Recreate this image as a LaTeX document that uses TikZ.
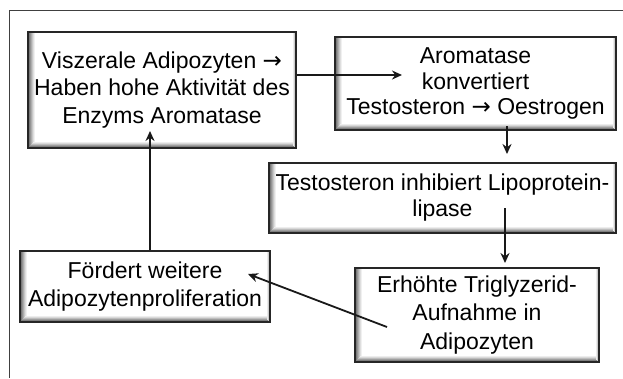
\documentclass[tikz,border=0pt]{standalone}
\usepackage{fontspec}
\setmainfont{Liberation Sans}
\newfontfamily\arrowfont{DejaVu Sans}
\newcommand{\rarr}{{\arrowfont →}}
\usetikzlibrary{arrows.meta}
\tikzset{
  box/.style={draw=black!85, line width=1.2pt, fill=white, inner sep=0pt,
    align=center, font=\fontsize{23}{27.5}\selectfont, text=black,
    path picture={
      \foreach \i/\g in {0/62,1/52,2/42,3/32,4/22,5/13,6/6}{
        \fill[black!\g] ([xshift=\i pt]path picture bounding box.south west) rectangle ([xshift=\i pt+1.05pt]path picture bounding box.north west);
      }
      \foreach \i/\g in {0/62,1/50,2/38,3/26,4/15,5/7}{
        \fill[black!\g] ([xshift=\i pt, yshift=\i pt]path picture bounding box.south west) rectangle ([yshift=\i pt+1.05pt]path picture bounding box.south east);
      }
      \foreach \i/\g in {0/35,1/20,2/8}{
        \fill[black!\g] ([xshift=-\i pt]path picture bounding box.north east) rectangle ([xshift=-\i pt-1.05pt, yshift=\i pt]path picture bounding box.south east);
      }
    }},
  arr/.style={line width=1.8pt, black!90, -{Stealth[length=10pt,width=9pt]}},
  frame/.style={draw=black!75, line width=1pt}
}
\begin{document}
\begin{tikzpicture}[x=1pt,y=-1pt]
\useasboundingbox (0,0) rectangle (623,378);
\fill[white] (0,0) rectangle (623,378);
\coordinate (ftr) at (623,10);
\coordinate (ftl) at (9,10);
\coordinate (fbl) at (9,378);
\draw[frame] (ftr) -- (ftl) -- (fbl);

\node[box, minimum width=268pt, minimum height=116pt] (b1) at (162,90)
  {Viszerale Adipozyten \rarr\\Haben hohe Aktivität des\\Enzyms Aromatase};
\node[box, minimum width=281pt, minimum height=93pt, font=\fontsize{23}{25.5}\selectfont] (b2) at (475.5,83.5)
  {Aromatase\\konvertiert\\Testosteron \rarr{} Oestrogen};
\node[box, minimum width=347pt, minimum height=70pt, font=\fontsize{23}{26}\selectfont] (b3) at (442.5,198)
  {Testosteron inhibiert Lipoprotein-\\lipase};
\node[box, minimum width=250pt, minimum height=71pt] (b4) at (145,286.5)
  {Fördert weitere\\Adipozytenproliferation};
\node[box, minimum width=244pt, minimum height=94pt, font=\fontsize{23}{28.5}\selectfont] (b5) at (477,315)
  {Erhöhte Triglyzerid-\\Aufnahme in\\Adipozyten};

\coordinate (a1s) at (b1.east |- 0,75);
\coordinate (a1e) at (402,75);
\draw[arr] (a1s) -- (a1e);
\coordinate (a2s) at (507,126);
\coordinate (a2e) at (507,154);
\draw[arr] (a2s) -- (a2e);
\coordinate (a3s) at (505,208);
\coordinate (a3e) at (505,263);
\draw[arr] (a3s) -- (a3e);
\coordinate (a4s) at (387,327);
\coordinate (a4e) at (248,274);
\draw[arr] (a4s) -- (a4e);
\coordinate (a5s) at (b4.north -| 150,0);
\coordinate (a5e) at (150,131);
\draw[arr] (a5s) -- (a5e);
\end{tikzpicture}
\end{document}
